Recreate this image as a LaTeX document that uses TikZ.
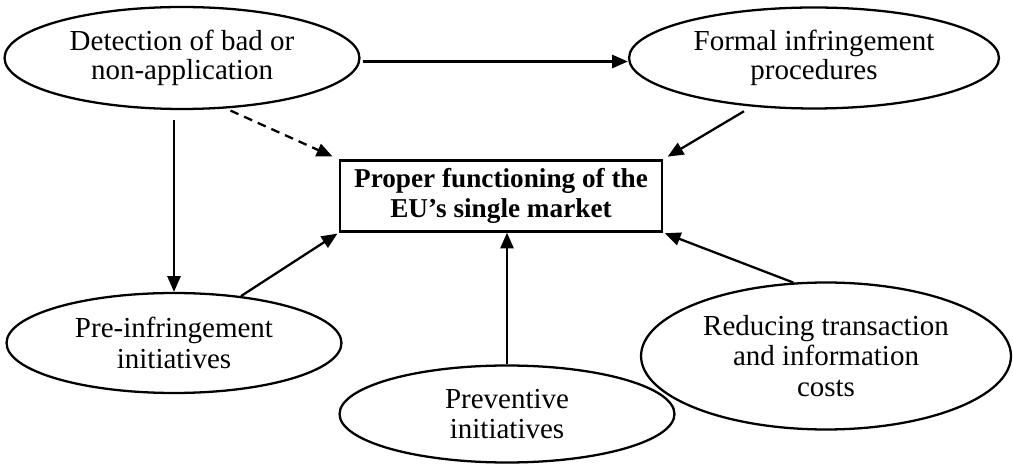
\documentclass[tikz,border=0pt]{standalone}
\usepackage{fontspec}
\setmainfont{Liberation Serif}
\usepackage{tikz}
\usetikzlibrary{shapes.geometric, arrows.meta, positioning}

\begin{document}
\begin{tikzpicture}[x=0.02cm, y=-0.02cm,
    oval/.style={draw, ellipse, line width=1.3pt, align=center, inner sep=0pt, font=\fontsize{16.5}{17.5}\selectfont},
    tightoval/.style={oval, font=\fontsize{16.5}{16.5}\selectfont},
    goalbox/.style={draw, rectangle, line width=1.3pt, align=center, font=\bfseries\fontsize{15.5}{17}\selectfont},
    arr/.style={line width=1.3pt, -{Triangle[length=9pt, width=7.5pt]}}]
\useasboundingbox (0,0) rectangle (1013,465);
\node[tightoval, minimum width=7.1cm, minimum height=2.04cm] (detect) at (182,58) {Detection of bad or\\non-application};
\node[tightoval, minimum width=7.4cm, minimum height=2.02cm] (formal) at (814,58) {Formal infringement\\procedures};
\node[oval, minimum width=6.7cm, minimum height=2cm] (pre) at (174,343) {Pre-infringement\\initiatives};
\node[oval, minimum width=6.7cm, minimum height=1.94cm] (prev) at (507,414) {Preventive\\initiatives};
\node[oval, minimum width=7.4cm, minimum height=2.94cm] (reduce) at (826,356) {Reducing transaction\\and information\\costs};
\node[goalbox, minimum width=6.44cm, minimum height=1.42cm] (market) at (501,196) {Proper functioning of the\\EU's single market};

\draw[arr, shorten <=2*0.02cm] ([yshift=-2pt]detect.east) -- ([yshift=-2pt]formal.west);
\draw[arr, shorten <=10*0.02cm] (pre.north |- detect.south) -- (pre.north);
\draw[arr, dash pattern=on 5pt off 3.5pt, shorten <=5*0.02cm, shorten >=4pt] (detect.-49) -- (market.north west);
\draw[arr, shorten <=9*0.02cm, shorten >=3pt] (formal.-142) -- (market.north east);
\draw[arr, shorten >=1pt] (pre.35) -- (market.south west);
\draw[arr] (prev.north) -- (prev.north |- market.south);
\draw[arr, shorten >=1pt] (reduce.114) -- (market.south east);
\end{tikzpicture}
\end{document}
